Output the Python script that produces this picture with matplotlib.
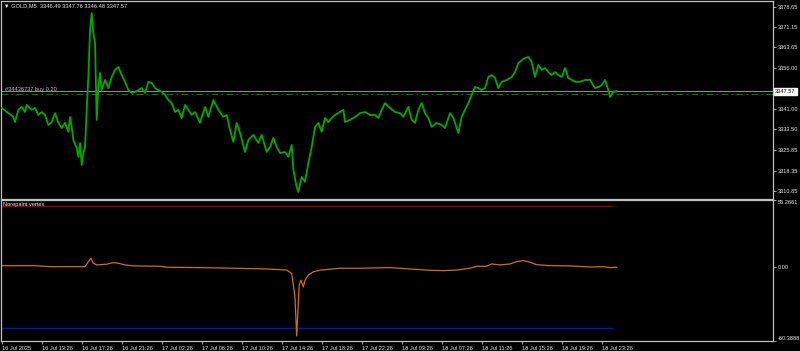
import numpy as np
import matplotlib
matplotlib.use('Agg')
import matplotlib.pyplot as plt

# ---- data (M5 bars since 16 Jul 09:26) ----
bars = [0, 6, 14, 16, 20, 24, 28, 30, 36, 40,
        44, 48, 52, 56, 60, 64, 68, 72, 76, 80,
        82, 84, 86, 90, 92, 94, 96, 98, 100, 102,
        104, 106, 108, 110, 112, 114, 116, 118, 120, 124,
        128, 132, 136, 140, 144, 148, 152, 156, 160, 164,
        168, 172, 176, 180, 184, 188, 192, 196, 200, 204,
        208, 212, 216, 220, 224, 228, 232, 238, 244, 248,
        254, 260, 266, 270, 274, 278, 282, 286, 292, 296,
        302, 308, 312, 318, 322, 326, 330, 334, 340, 344,
        348, 350, 354, 356, 360, 364, 368, 372, 376, 380,
        384, 388, 392, 396, 400, 406, 410, 412, 418, 424,
        430, 436, 442, 448, 452, 456, 460, 466, 472, 478,
        482, 488, 492, 496, 500, 504, 508, 512, 516, 522,
        528, 532, 538, 542, 546, 548, 552, 556, 560, 564,
        568, 572, 576, 580, 584, 588, 592, 596, 600, 606,
        612, 616, 620, 624, 628, 632, 636, 640, 644, 648,
        652, 656, 660, 664, 668, 672, 676, 680, 684, 688,
        694, 700, 706, 712, 716, 720, 724, 728, 730, 734,
        738]
close = [3341.4, 3339.9, 3338.1, 3336.2, 3340.7, 3341.8, 3339.9, 3342.5, 3340.7, 3341.4,
         3338.8, 3339.9, 3338.8, 3335.1, 3336.2, 3339.5, 3335.9, 3334.0, 3335.9, 3332.6,
         3338.1, 3334.4, 3329.6, 3326.7, 3323.4, 3328.5, 3320.4, 3324.8, 3327.0, 3340.7,
         3352.8, 3370.1, 3376.3, 3369.0, 3365.3, 3337.0, 3349.1, 3354.3, 3348.0, 3351.7,
         3348.7, 3352.8, 3355.4, 3356.5, 3353.5, 3351.0, 3348.0, 3346.9, 3347.3, 3348.0,
         3348.7, 3346.9, 3351.0, 3350.6, 3348.7, 3348.0, 3347.3, 3346.2, 3344.3, 3343.2,
         3339.9, 3340.7, 3337.7, 3342.5, 3340.7, 3338.8, 3339.9, 3335.9, 3341.8, 3338.1,
         3344.3, 3340.7, 3338.1, 3338.8, 3333.3, 3328.9, 3335.9, 3332.2, 3325.2, 3329.6,
         3331.5, 3328.5, 3331.5, 3325.2, 3327.0, 3330.4, 3327.0, 3324.8, 3325.2, 3323.4,
         3327.8, 3318.6, 3312.3, 3310.5, 3316.0, 3314.2, 3321.2, 3327.0, 3334.4, 3335.9,
         3332.6, 3337.7, 3336.2, 3337.7, 3338.8, 3339.9, 3340.7, 3336.2, 3337.0, 3338.1,
         3339.5, 3339.9, 3338.8, 3338.8, 3337.7, 3340.7, 3343.2, 3341.4, 3339.9, 3339.5,
         3338.1, 3341.8, 3337.0, 3335.9, 3340.7, 3343.2, 3339.5, 3337.7, 3334.4, 3335.9,
         3335.1, 3334.0, 3339.5, 3337.7, 3334.0, 3332.2, 3338.1, 3340.7, 3343.2, 3346.2,
         3349.1, 3348.7, 3348.0, 3348.7, 3352.8, 3353.5, 3352.4, 3348.7, 3351.0, 3351.7,
         3352.8, 3354.6, 3357.9, 3359.0, 3359.8, 3360.1, 3358.3, 3352.8, 3357.2, 3355.4,
         3356.1, 3354.6, 3353.5, 3354.6, 3353.5, 3352.8, 3356.1, 3352.4, 3351.7, 3351.0,
         3351.0, 3351.7, 3351.7, 3348.7, 3349.1, 3349.8, 3351.7, 3348.0, 3345.4, 3347.3,
         3347.57]

ind_bars = [0, 38, 58, 78, 100, 104, 107, 110, 114, 126,
            134, 140, 148, 158, 190, 198, 238, 278, 318, 342,
            348, 350, 352, 354, 356, 357, 359, 362, 364, 368,
            374, 382, 406, 430, 466, 490, 514, 530, 546, 562,
            570, 582, 588, 598, 610, 618, 626, 634, 642, 658,
            682, 706, 722, 730, 738]
vertex = [1.4, 1.4, 0.6, 0.6, 0.6, 4.7, 7.6, 3.4, 2.0, 2.6,
          3.9, 3.4, 2.0, 1.2, 0.9, 0.1, -0.2, -0.7, -1.3, -2.2,
          -4.9, -14.6, -25.5, -56.2, -28.5, -14.6, -10.5, -16.1, -10.5, -6.3,
          -3.6, -2.3, -0.7, -0.7, -0.2, -1.3, -2.4, -2.7, -2.2, -0.7,
          0.9, 0.9, 2.8, 2.0, 2.8, 4.7, 5.6, 4.2, 2.2, 1.4,
          1.2, 0.3, 0.6, -0.2, 0.1]
level_hi, level_lo = 50.0, -50.0
sub_min, sub_max = -60.3888, 55.2661

price_ticks = [3378.65, 3371.15, 3363.65, 3356.00, 3341.00,
               3333.50, 3325.85, 3318.35, 3310.85]
time_labels = ['16 Jul 2025', '16 Jul 13:26', '16 Jul 17:26', '16 Jul 21:26',
               '17 Jul 02:26', '17 Jul 06:26', '17 Jul 10:26', '17 Jul 14:26',
               '17 Jul 18:26', '17 Jul 22:26', '18 Jul 03:26', '18 Jul 07:26',
               '18 Jul 11:26', '18 Jul 15:26', '18 Jul 19:26', '18 Jul 23:26']
time_ticks = [48 * i for i in range(len(time_labels))]
bid = 3347.57
buy_price = 3346.70
header = '\u25bc GOLD,M5  3346.49 3347.76 3346.48 3347.57'
order_label = '#34436737 buy 0.20'
sub_title = 'Norepaint vertex'

BG = '#000000'
FRAME = '#c0c0c0'
TXT = '#e8e8e8'
GREEN = '#00a800'
FS = 4.1

plt.rcParams['font.family'] = ['Liberation Sans', 'DejaVu Sans']

fig = plt.figure(figsize=(8.0, 3.51), dpi=100, facecolor=BG)
W, H = 800.0, 351.0
ax = fig.add_axes([1 / W, 1 - 199 / H, 772 / W, 198 / H], facecolor=BG)
ax2 = fig.add_axes([1 / W, 1 - 341 / H, 772 / W, 141 / H], facecolor=BG)

for a in (ax, ax2):
    for s in a.spines.values():
        s.set_color(FRAME)
        s.set_linewidth(0.9)
    a.set_xlim(-0.84, 925.6)
    a.yaxis.tick_right()
    a.tick_params(axis='y', colors=FRAME, labelcolor=TXT, labelsize=FS,
                  length=2.5, width=0.6, pad=1.2)

# ---- main price window ----
ax.set_ylim(3307.90, 3380.75)
ax.plot(bars, close, color=GREEN, lw=1.3, zorder=3)
ax.axhline(bid, color='#8a8a8a', lw=0.8, zorder=2)
ax.axhline(buy_price, color='#007a00', lw=0.8, ls=(0, (6, 3, 1.5, 3)), zorder=2)
ax.set_yticks(price_ticks)
ax.set_yticklabels([f'{v:.2f}' for v in price_ticks])
for lb in ax.get_yticklabels():
    lb.set_horizontalalignment('left')
ax.set_xticks([])
ax.annotate(f'{bid:.2f}', xy=(1.0, bid), xycoords=('axes fraction', 'data'),
            xytext=(1.6, 0), textcoords='offset points', ha='left', va='center',
            fontsize=FS, color='#000000', zorder=10, annotation_clip=False,
            bbox=dict(boxstyle='square,pad=0.2', facecolor='white', edgecolor='white'))
ax.text(0.004, 0.975, header, transform=ax.transAxes, ha='left', va='center',
        fontsize=FS, color=TXT)
ax.annotate(order_label, xy=(0.005, buy_price), xycoords=('axes fraction', 'data'),
            xytext=(0, 0.8), textcoords='offset points', ha='left', va='bottom',
            fontsize=FS, color='#bbbbbb')

# ---- indicator subwindow ----
ax2.set_ylim(sub_min, sub_max)
span = [ind_bars[0], ind_bars[-1] - 6]
ax2.plot(span, [level_hi, level_hi], color='#8b0000', lw=1.0)
ax2.plot(span, [level_lo, level_lo], color='#1010b8', lw=1.0)
ax2.plot(ind_bars, vertex, color='#cc7208', lw=0.9)
ax2.set_yticks([sub_max, 0.0, sub_min])
ax2.set_yticklabels([f'{sub_max:.4f}', '0.00', f'{sub_min:.4f}'])
for lb, va in zip(ax2.get_yticklabels(), ['top', 'center', 'bottom']):
    lb.set_horizontalalignment('left')
    lb.set_verticalalignment(va)
ax2.text(0.003, 0.985, sub_title, transform=ax2.transAxes, ha='left', va='top',
         fontsize=FS, color=TXT)

ax2.set_xticks(time_ticks)
ax2.set_xticklabels(time_labels)
ax2.tick_params(axis='x', colors=FRAME, labelcolor=TXT, labelsize=FS,
                length=2.5, width=0.6, pad=1.0)
for lb in ax2.get_xticklabels():
    lb.set_horizontalalignment('left')

fig.savefig('out.png', dpi=100, facecolor=BG)
